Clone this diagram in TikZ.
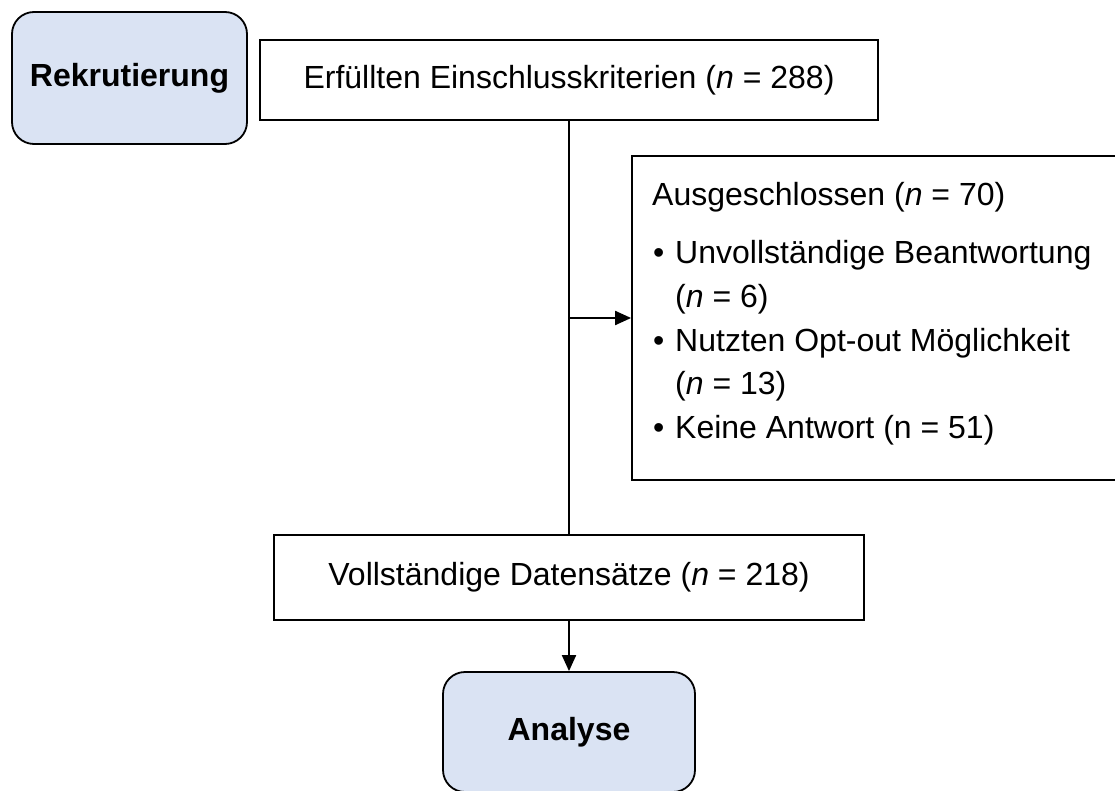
\documentclass[tikz,border=0pt]{standalone}
\usepackage{fontspec}
\setmainfont{Liberation Sans}
\usetikzlibrary{arrows.meta}
\definecolor{boxblue}{HTML}{DAE3F3}
\begin{document}
\begin{tikzpicture}[x=1pt,y=-1pt,
  every node/.style={font=\fontsize{32}{38}\selectfont, inner sep=0pt},
  plainbox/.style={draw=black, line width=1.8pt, fill=white, rectangle},
  roundbox/.style={draw=black, line width=1.8pt, fill=boxblue, rounded corners=22pt, font=\fontsize{32}{38}\selectfont\bfseries},
  txt/.style={anchor=base west},
  conn/.style={line width=2pt, -{Triangle[length=16pt,width=14pt]}},
  plainline/.style={line width=2pt}]
\useasboundingbox (0,0) rectangle (1115,791);
\clip (0,0) rectangle (1115,791);
\node[roundbox, minimum width=235pt, minimum height=132pt] (rek) at (129.5,78) {Rekrutierung};
\node[plainbox, minimum width=618pt, minimum height=80pt] (erf) at (569,80) {Erfüllten Einschlusskriterien (\textit{n} = 288)};
\node[plainbox, minimum width=493pt, minimum height=324pt] (aus) at (878.5,318) {};
\node[plainbox, minimum width=590pt, minimum height=85pt] (voll) at (569,577.5) {Vollständige Datensätze (\textit{n} = 218)};
\node[roundbox, minimum width=252pt, minimum height=120pt] (ana) at (569,732) {Analyse};
% texts of the excluded box
\node[txt] (t0) at (652,206) {Ausgeschlossen (\textit{n} = 70)};
\node[txt] (b1) at (653,264) {•};
\node[txt] (t1) at (675,264) {Unvollständige Beantwortung};
\node[txt] (t2) at (675,307) {(\textit{n} = 6)};
\node[txt] (b3) at (653,351) {•};
\node[txt] (t3) at (675,351) {Nutzten Opt-out Möglichkeit};
\node[txt] (t4) at (675,394) {(\textit{n} = 13)};
\node[txt] (b5) at (653,438) {•};
\node[txt] (t5) at (675,438) {Keine Antwort (n = 51)};
% connectors
\coordinate (br) at (erf.south |- aus.west);
\draw[plainline] (erf.south) -- (voll.north);
\draw[conn] (br) -- (aus.west);
\draw[conn] (voll.south) -- (ana.north);
\end{tikzpicture}
\end{document}
